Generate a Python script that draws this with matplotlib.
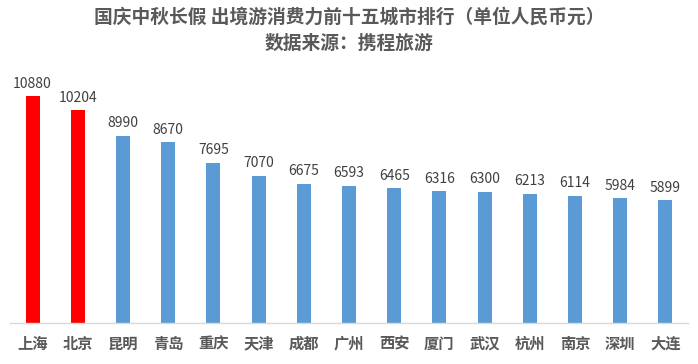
import numpy as np
import matplotlib
matplotlib.use('Agg')
import matplotlib.pyplot as plt

plt.rcParams['font.family'] = ['Noto Sans CJK SC', 'DejaVu Sans']

cities = ['上海', '北京', '昆明', '青岛', '重庆', '天津', '成都', '广州',
          '西安', '厦门', '武汉', '杭州', '南京', '深圳', '大连']
spend = [10880, 10204, 8990, 8670, 7695, 7070, 6675, 6593,
         6465, 6316, 6300, 6213, 6114, 5984, 5899]
highlight = ['上海', '北京']

fig = plt.figure(figsize=(6.98, 3.64), dpi=100)
ax = fig.add_axes([10 / 698, 41 / 364, 678 / 698, 250 / 364])

x = np.arange(len(cities))
colors = ['#FF0000' if c in highlight else '#5B9BD5' for c in cities]
ax.bar(x, spend, width=0.31, color=colors)

for xi, v in zip(x, spend):
    ax.annotate(str(v), (xi, v), xytext=(0, 4), textcoords='offset points',
                ha='center', va='bottom', fontsize=10, color='#404040')

ax.set_xlim(-0.5, len(cities) - 0.5)
ax.set_ylim(0, 12000)
ax.set_yticks([])
ax.set_xticks(x)
ax.set_xticklabels(cities, fontsize=11, color='#595959', fontweight='bold')
ax.tick_params(axis='x', length=0, pad=9)
for s in ['top', 'right', 'left']:
    ax.spines[s].set_visible(False)
ax.spines['bottom'].set_color('#D9D9D9')
ax.spines['bottom'].set_linewidth(1)

fig.text(0.5, 1 - 17 / 364, '国庆中秋长假 出境游消费力前十五城市排行（单位人民币元）',
         ha='center', va='center', fontsize=13.5, color='#595959', fontweight='bold')
fig.text(0.5, 1 - 43 / 364, '数据来源：携程旅游',
         ha='center', va='center', fontsize=13.5, color='#595959', fontweight='bold')

fig.savefig('out.png', dpi=100)
